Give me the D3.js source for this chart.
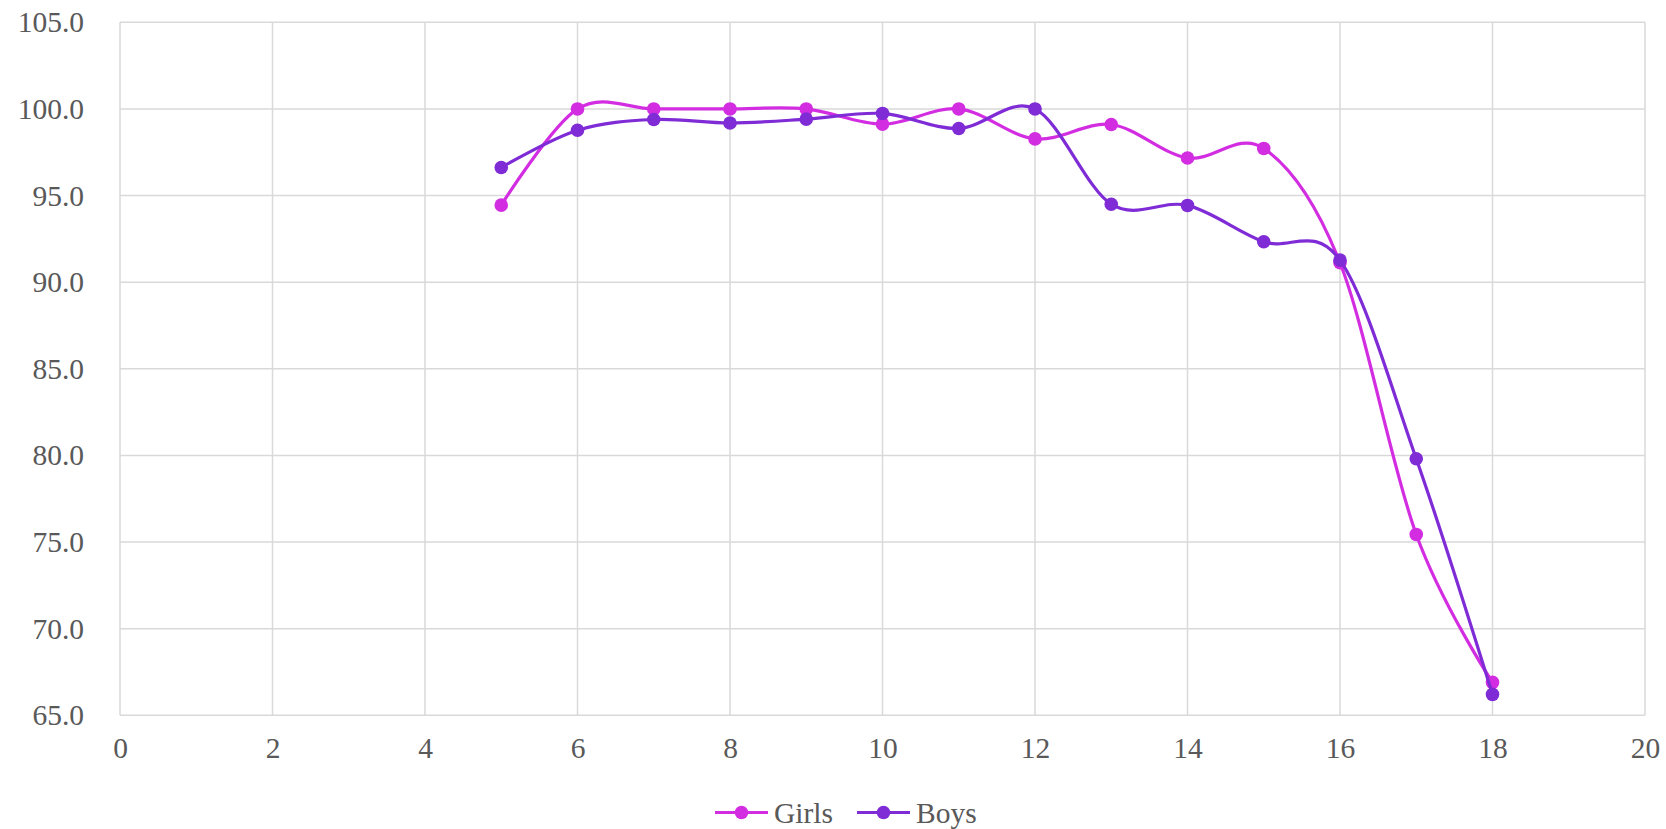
<!DOCTYPE html>
<html>
<head>
<meta charset="utf-8">
<script src="https://cdn.jsdelivr.net/npm/d3@7"></script>
<style>
  html, body { margin: 0; padding: 0; background: #fff; }
  svg { display: block; }
  text { font-family: "Liberation Serif", "DejaVu Serif", serif; fill: #595959; }
</style>
</head>
<body>
<svg id="chart" width="1666" height="829"></svg>
<script>
const ages = [5, 6, 7, 8, 9, 10, 11, 12, 13, 14, 15, 16, 17, 18];
const girls = [94.45, 100.0, 100.0, 100.0, 100.0, 99.12, 100.0, 98.27, 99.1, 97.17, 97.72, 91.12, 75.44, 66.9];
const boys = [96.62, 98.77, 99.39, 99.19, 99.41, 99.74, 98.87, 100.0, 94.5, 94.43, 92.33, 91.27, 79.81, 66.21];
const seriesNames = ["Girls", "Boys"];
const seriesColors = ["#d32de2", "#7f2bd6"];
const xTicks = [0, 2, 4, 6, 8, 10, 12, 14, 16, 18, 20];
const yTicks = [65, 70, 75, 80, 85, 90, 95, 100, 105];

const svg = d3.select("#chart");
const m = { left: 120, right: 1645, top: 22.3, bottom: 715.3 };
const fs = 29.5;

const x = d3.scaleLinear().domain([0, 20]).range([m.left, m.right]);
const y = d3.scaleLinear().domain([65, 105]).range([m.bottom, m.top]);

const grid = svg.append("g");
grid.selectAll("line.h").data(yTicks).enter().append("line")
  .attr("x1", m.left).attr("x2", m.right)
  .attr("y1", d => y(d)).attr("y2", d => y(d))
  .attr("stroke", "#d9d9d9").attr("stroke-width", 1.5);
grid.selectAll("line.v").data(xTicks).enter().append("line")
  .attr("y1", m.top).attr("y2", m.bottom)
  .attr("x1", d => x(d)).attr("x2", d => x(d))
  .attr("stroke", "#d9d9d9").attr("stroke-width", 1.5);

const yAxis = d3.axisLeft(y).tickValues(yTicks).tickFormat(d3.format(".1f")).tickSize(0).tickPadding(36);
const gy = svg.append("g").attr("transform", `translate(${m.left},0)`).call(yAxis);
gy.select(".domain").remove();
gy.selectAll("text").attr("font-size", fs).attr("fill", "#595959")
  .attr("font-family", "Liberation Serif, serif");

const xAxis = d3.axisBottom(x).tickValues(xTicks).tickFormat(d3.format("d")).tickSize(0).tickPadding(22);
const gx = svg.append("g").attr("transform", `translate(0,${m.bottom})`).call(xAxis);
gx.select(".domain").remove();
gx.selectAll("text").attr("font-size", fs).attr("fill", "#595959")
  .attr("font-family", "Liberation Serif, serif");

const data = [girls, boys];
const line = d3.line()
  .x((d, i) => x(ages[i]))
  .y(d => y(d))
  .curve(d3.curveCatmullRom.alpha(0));

data.forEach((vals, k) => {
  const g = svg.append("g");
  g.append("path").datum(vals)
    .attr("d", line)
    .attr("fill", "none")
    .attr("stroke", seriesColors[k])
    .attr("stroke-width", 3.2)
    .attr("stroke-linejoin", "round");
  g.selectAll("circle").data(vals).enter().append("circle")
    .attr("cx", (d, i) => x(ages[i]))
    .attr("cy", d => y(d))
    .attr("r", 6.8)
    .attr("fill", seriesColors[k]);
});

const legendY = 812.5;
const legendItems = [
  { x0: 715, label: "Girls" },
  { x0: 857, label: "Boys" }
];
legendItems.forEach((it, k) => {
  const g = svg.append("g");
  g.append("line").attr("x1", it.x0).attr("x2", it.x0 + 53)
    .attr("y1", legendY).attr("y2", legendY)
    .attr("stroke", seriesColors[k]).attr("stroke-width", 3.2);
  g.append("circle").attr("cx", it.x0 + 26.5).attr("cy", legendY).attr("r", 6.8)
    .attr("fill", seriesColors[k]);
  g.append("text").attr("x", it.x0 + 59).attr("y", legendY + 10)
    .attr("font-size", fs).text(seriesNames[k]);
});
</script>
</body>
</html>
